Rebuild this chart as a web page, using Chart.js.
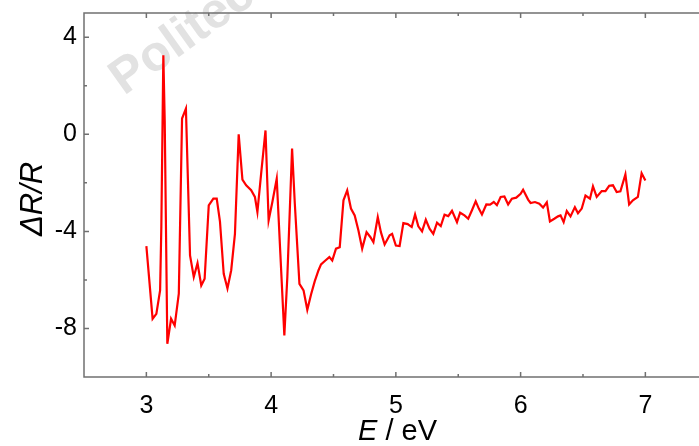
<!DOCTYPE html>
<html>
<head>
<meta charset="utf-8">
<script src="https://cdn.jsdelivr.net/npm/chart.js@4.4.0/dist/chart.umd.min.js"></script>
<style>
    body { margin: 0; background: #fff; }
    #wrap { width: 699px; height: 446px; }
</style>
</head>
<body>
<div id="wrap"><canvas id="chart" width="699" height="446"></canvas></div>
<script>
// photon energy (eV) and the measured dR/R signal
const energy = [
    3.00, 3.05, 3.08, 3.11, 3.12, 3.136, 3.147, 3.168, 3.198, 3.227,
    3.26, 3.286, 3.317, 3.35, 3.38, 3.41, 3.44, 3.467, 3.50, 3.537,
    3.564, 3.59, 3.62, 3.65, 3.68, 3.71, 3.74, 3.77, 3.80, 3.84,
    3.87, 3.89, 3.92, 3.955, 3.98, 4.01, 4.045, 4.074, 4.106, 4.13,
    4.168, 4.19, 4.227, 4.26, 4.29, 4.32, 4.35, 4.38, 4.40, 4.435,
    4.467, 4.49, 4.52, 4.55, 4.58, 4.61, 4.64, 4.67, 4.70, 4.73,
    4.765, 4.795, 4.82, 4.855, 4.88, 4.91, 4.95, 4.97, 5.00, 5.03,
    5.06, 5.095, 5.127, 5.154, 5.18, 5.21, 5.24, 5.27, 5.30, 5.33,
    5.36, 5.39, 5.42, 5.45, 5.49, 5.515, 5.55, 5.58, 5.61, 5.64,
    5.665, 5.69, 5.725, 5.755, 5.785, 5.81, 5.84, 5.87, 5.90, 5.93,
    5.965, 6.00, 6.02, 6.06, 6.08, 6.115, 6.15, 6.18, 6.21, 6.235,
    6.27, 6.30, 6.32, 6.345, 6.37, 6.40, 6.435, 6.46, 6.49, 6.52,
    6.556, 6.58, 6.61, 6.65, 6.68, 6.71, 6.74, 6.77, 6.80, 6.84,
    6.87, 6.90, 6.94, 6.97, 7.00
];
const deltaR = [
    -4.61, -7.60, -7.40, -6.43, -3.80, 3.26, 0.58, -8.63, -7.60, -7.88,
    -6.57, 0.65, 1.06, -4.99, -5.88, -5.31, -6.23, -5.95, -2.93, -2.65,
    -2.65, -3.60, -5.75, -6.35, -5.60, -4.10, 0.00, -1.87, -2.10, -2.30,
    -2.58, -3.20, -1.62, 0.16, -3.55, -2.79, -1.83, -4.92, -8.29, -5.88,
    -0.59, -2.86, -6.16, -6.43, -7.23, -6.60, -6.05, -5.60, -5.36, -5.20,
    -5.06, -5.20, -4.71, -4.65, -2.72, -2.31, -3.06, -3.34, -3.96, -4.71,
    -4.03, -4.23, -4.44, -3.41, -4.03, -4.54, -4.16, -4.10, -4.58, -4.60,
    -3.66, -3.70, -3.82, -3.30, -3.79, -4.00, -3.52, -3.89, -4.10, -3.64,
    -3.78, -3.31, -3.37, -3.15, -3.62, -3.23, -3.34, -3.48, -3.13, -2.76,
    -3.06, -3.30, -2.89, -2.90, -2.79, -2.92, -2.58, -2.56, -2.89, -2.65,
    -2.61, -2.45, -2.28, -2.69, -2.83, -2.79, -2.86, -3.02, -2.80, -3.59,
    -3.48, -3.38, -3.34, -3.62, -3.16, -3.38, -3.00, -3.25, -3.06, -2.52,
    -2.65, -2.14, -2.58, -2.34, -2.34, -2.12, -2.10, -2.38, -2.35, -1.65,
    -2.89, -2.72, -2.58, -1.60, -1.90
];

const xMajorTicks = [3, 4, 5, 6, 7];
const xMinorTicks = [3.5, 4.5, 5.5, 6.5];
const yMajorTicks = [-8, -4, 0, 4];
const yMinorTicks = [-6, -2, 2];

const axisColor = '#707070';
const fam = 'Liberation Sans, Arial, sans-serif';
const tickFont = { family: fam, size: 25 };

// axes drawn Origin style: spines with inward major/minor ticks
const framePlugin = {
    id: 'frame',
    afterDatasetsDraw(chart) {
        const { ctx, chartArea: a, scales } = chart;
        const x = scales.x, y = scales.y;
        ctx.save();
        ctx.strokeStyle = axisColor;
        ctx.lineWidth = 1.5;
        ctx.beginPath();
        ctx.moveTo(a.right, a.top);
        ctx.lineTo(a.left, a.top);
        ctx.lineTo(a.left, a.bottom);
        ctx.lineTo(a.right, a.bottom);

        const xTick = (v, len) => {
            const px = x.getPixelForValue(v);
            ctx.moveTo(px, a.bottom); ctx.lineTo(px, a.bottom - len);
            ctx.moveTo(px, a.top); ctx.lineTo(px, a.top + len);
        };
        const yTick = (v, len) => {
            const py = y.getPixelForValue(v);
            ctx.moveTo(a.left, py); ctx.lineTo(a.left + len, py);
        };
        xMajorTicks.forEach(v => xTick(v, 5));
        xMinorTicks.forEach(v => xTick(v, 3));
        yMajorTicks.forEach(v => yTick(v, 5));
        yMinorTicks.forEach(v => yTick(v, 3));
        ctx.stroke();

        // axis titles
        ctx.fillStyle = '#000';
        ctx.textBaseline = 'middle';
        ctx.font = 'italic 29px ' + fam;
        const wE = ctx.measureText('E').width;
        ctx.font = '29px ' + fam;
        const wRest = ctx.measureText(' / eV').width;
        const cx = (a.left + a.right) / 2 + 6;
        const sx = cx - (wE + wRest) / 2;
        ctx.textAlign = 'left';
        ctx.font = 'italic 29px ' + fam;
        ctx.fillText('E', sx, 432);
        ctx.font = '29px ' + fam;
        ctx.fillText(' / eV', sx + wE, 432);

        ctx.translate(33, (a.top + a.bottom) / 2 + 4);
        ctx.rotate(-Math.PI / 2);
        ctx.textAlign = 'center';
        ctx.font = 'italic 31px ' + fam;
        ctx.fillText('\u0394R/R', 0, 0);
        ctx.restore();
    }
};

// faint watermark left over in the scanned figure
const watermarkPlugin = {
    id: 'watermark',
    beforeDatasetsDraw(chart) {
        const ctx = chart.ctx;
        ctx.save();
        ctx.translate(124, 96);
        ctx.rotate(-0.62);
        ctx.fillStyle = '#e2e2e2';
        ctx.font = 'bold 50px ' + fam;
        ctx.fillText('Politecnico', 0, 0);
        ctx.restore();
    }
};

const points = energy.map((e, i) => ({ x: e, y: deltaR[i] }));

new Chart(document.getElementById('chart'), {
    type: 'line',
    data: {
        datasets: [{
            data: points,
            borderColor: '#ff0000',
            borderWidth: 2.2,
            pointRadius: 0,
            tension: 0,
            fill: false
        }]
    },
    options: {
        responsive: false,
        animation: false,
        layout: { padding: { top: 13, right: 0, left: 0, bottom: 0 } },
        plugins: {
            legend: { display: false },
            tooltip: { enabled: false }
        },
        scales: {
            x: {
                type: 'linear',
                min: 2.5,
                max: 7.43,
                grid: { display: false, drawTicks: false },
                border: { display: false },
                afterBuildTicks: scale => { scale.ticks = xMajorTicks.map(v => ({ value: v })); },
                afterFit: scale => {
                    scale.height = 69;
                    scale.paddingLeft = 0;
                    scale.paddingRight = 0;
                },
                ticks: {
                    font: tickFont,
                    color: '#000',
                    padding: 14,
                    maxRotation: 0,
                    autoSkip: false
                }
            },
            y: {
                min: -10,
                max: 5,
                grid: { display: false, drawTicks: false },
                border: { display: false },
                afterBuildTicks: scale => { scale.ticks = yMajorTicks.map(v => ({ value: v })); },
                afterFit: scale => {
                    scale.width = 84;
                    scale.paddingTop = 0;
                    scale.paddingBottom = 0;
                },
                ticks: {
                    font: tickFont,
                    color: '#000',
                    padding: 7,
                    autoSkip: false
                }
            }
        }
    },
    plugins: [watermarkPlugin, framePlugin]
});
</script>
</body>
</html>
